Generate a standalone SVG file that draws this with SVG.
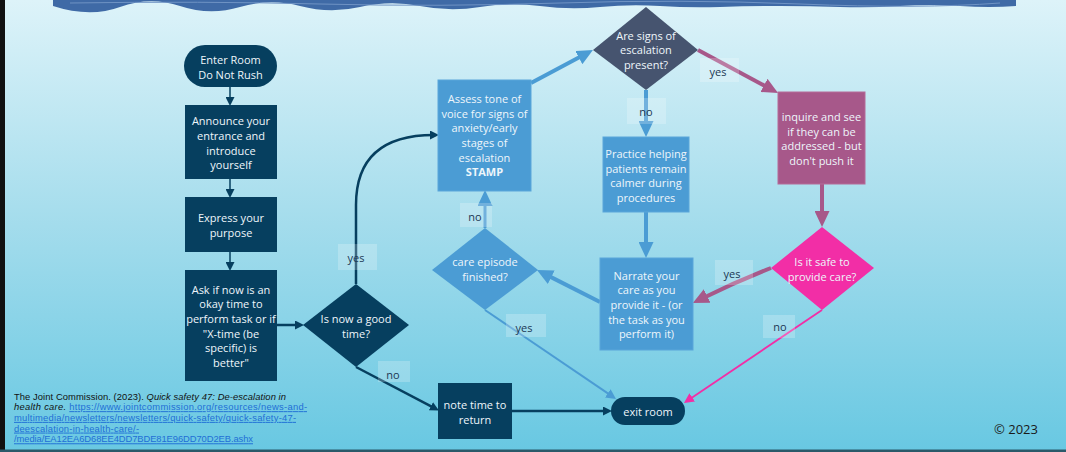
<svg xmlns="http://www.w3.org/2000/svg" width="1066" height="452" viewBox="0 0 1066 452">
<defs>
<linearGradient id="bg" x1="0" y1="0" x2="0" y2="1">
<stop offset="0" stop-color="#ddf3f9"/>
<stop offset="0.5" stop-color="#a3dcec"/>
<stop offset="1" stop-color="#68c8e2"/>
</linearGradient>
<marker id="mDark" markerUnits="userSpaceOnUse" markerWidth="9" markerHeight="9" refX="4" refY="4.5" orient="auto"><path d="M0,0 L9,4.5 L0,9 z" fill="#063f5f"/></marker>
<marker id="mBlue" markerUnits="userSpaceOnUse" markerWidth="16" markerHeight="15" refX="8" refY="7.5" orient="auto"><path d="M0,0 L16,7.5 L0,15 z" fill="#4b9cd4"/></marker>
<marker id="mBlueThin" markerUnits="userSpaceOnUse" markerWidth="10" markerHeight="10" refX="5" refY="5" orient="auto"><path d="M0,0 L10,5 L0,10 z" fill="#4b9cd4"/></marker>
<marker id="mMauve" markerUnits="userSpaceOnUse" markerWidth="16" markerHeight="15" refX="8" refY="7.5" orient="auto"><path d="M0,0 L16,7.5 L0,15 z" fill="#a7588a"/></marker>
<marker id="mPink" markerUnits="userSpaceOnUse" markerWidth="10" markerHeight="10" refX="5" refY="5" orient="auto"><path d="M0,0 L10,5 L0,10 z" fill="#f22ea6"/></marker>
</defs>
<style>
.t{font-family:"Open Sans","Noto Sans","Liberation Sans",sans-serif;font-size:11px;fill:#eef6fb;text-anchor:middle;dominant-baseline:central}
.dark{fill:#063f5f}
.blue{fill:#4b9cd4;stroke:#5aa6da;stroke-width:1}
.slate{fill:#46546f}
.mauve{fill:#a7588a;stroke:#b56a98;stroke-width:1}
.pink{fill:#f22ea6}
.lb{fill:#ffffff;fill-opacity:0.22}
.lt{font-family:"Open Sans","Noto Sans","Liberation Sans",sans-serif;font-size:11px;fill:#1c3854;text-anchor:middle;dominant-baseline:central}
.c{fill:none}
.cite{font-family:"Liberation Sans",Arial,sans-serif;font-size:9.4px;fill:#111}
.link{fill:#1f6fd6;text-decoration:underline}
</style>
<rect x="0" y="0" width="1066" height="452" fill="url(#bg)"/>
<rect x="0" y="0" width="5" height="452" fill="#111"/>
<rect x="0" y="449.5" width="1066" height="2.5" fill="#2b5a6a"/>
<path d="M53,0 H1016 V6 Q990,8 960,6 T900,6 T840,7 T780,6 T720,7 T660,6 T600,7 T540,6 T480,7 T420,6 T360,7 T300,6 T240,7 T180,6 T120,7 T53,6 Z" fill="#3f6aa6"/>
<path d="M70,3 Q200,1 320,4 T560,3 T800,4 T1000,3" fill="none" stroke="#6f93c4" stroke-width="1"/>

<g id="connectors">
<path class="c" d="M230,87 V101" stroke="#063f5f" stroke-width="1.5" marker-end="url(#mDark)"/>
<path class="c" d="M230,179 V193" stroke="#063f5f" stroke-width="1.5" marker-end="url(#mDark)"/>
<path class="c" d="M230,252 V266" stroke="#063f5f" stroke-width="1.5" marker-end="url(#mDark)"/>
<path class="c" d="M277,325 H299" stroke="#063f5f" stroke-width="2.5" marker-end="url(#mDark)"/>
<path class="c" d="M356,284 V205 Q356,135 434,135" stroke="#063f5f" stroke-width="2.5" marker-end="url(#mDark)"/>
<path class="c" d="M356,367 L434.5,408.1" stroke="#063f5f" stroke-width="2.5" marker-end="url(#mDark)"/>
<path class="c" d="M512,411 H607" stroke="#063f5f" stroke-width="2.5" marker-end="url(#mDark)"/>
<path class="c" d="M531,83 L585.9,53.8" stroke="#4b9cd4" stroke-width="4" marker-end="url(#mBlue)"/>
<path class="c" d="M646,90 V129" stroke="#4b9cd4" stroke-width="4" marker-end="url(#mBlue)"/>
<path class="c" d="M646,212 V250" stroke="#4b9cd4" stroke-width="4" marker-end="url(#mBlue)"/>
<path class="c" d="M600,302 L544.1,273.6" stroke="#4b9cd4" stroke-width="4" marker-end="url(#mBlue)"/>
<path class="c" d="M485,228 V198" stroke="#4b9cd4" stroke-width="3" marker-end="url(#mBlue)"/>
<path class="c" d="M485,310 L611.9,396.2" stroke="#4b9cd4" stroke-width="2" marker-end="url(#mBlueThin)"/>
<path class="c" d="M698,50 L771,89.2" stroke="#a7588a" stroke-width="4" marker-end="url(#mMauve)"/>
<path class="c" d="M822,184 V219" stroke="#a7588a" stroke-width="4" marker-end="url(#mMauve)"/>
<path class="c" d="M771,268 Q735,282 700,299.5" stroke="#a7588a" stroke-width="4" marker-end="url(#mMauve)"/>
<path class="c" d="M822,310 L688.1,400.2" stroke="#f22ea6" stroke-width="1.8" marker-end="url(#mPink)"/>
<rect class="lb" x="338" y="244" width="39" height="26"/><text class="lt" x="356" y="257">yes</text>
<rect class="lb" x="378" y="361" width="32" height="21"/><text class="lt" x="393" y="374">no</text>
<rect class="lb" x="627" y="98" width="39" height="26"/><text class="lt" x="646" y="111">no</text>
<rect class="lb" x="460" y="203" width="32" height="24"/><text class="lt" x="475" y="216">no</text>
<rect class="lb" x="506" y="314" width="40" height="23"/><text class="lt" x="524" y="327">yes</text>
<rect class="lb" x="700" y="58" width="39" height="24"/><text class="lt" x="718" y="71">yes</text>
<rect class="lb" x="715" y="260" width="38" height="25"/><text class="lt" x="732" y="273">yes</text>
<rect class="lb" x="763" y="315" width="32" height="23"/><text class="lt" x="780" y="326">no</text>
</g>

<g id="enter-room">
<rect class="dark" x="184" y="45" width="93" height="42" rx="21"/>
<text class="t" x="230.5" y="59">Enter Room</text>
<text class="t" x="230.5" y="74">Do Not Rush</text>
</g>
<g id="announce">
<rect class="dark" x="185" y="105" width="92" height="74"/>
<text class="t" x="231" y="120.5">Announce your</text>
<text class="t" x="231" y="135">entrance and</text>
<text class="t" x="231" y="150">introduce</text>
<text class="t" x="231" y="164.5">yourself</text>
</g>
<g id="express">
<rect class="dark" x="185" y="197" width="92" height="55"/>
<text class="t" x="231" y="217.5">Express your</text>
<text class="t" x="231" y="232.5">purpose</text>
</g>
<g id="ask">
<rect class="dark" x="185" y="270" width="92" height="111"/>
<text class="t" x="231" y="289">Ask if now is an</text>
<text class="t" x="231" y="303.7">okay time to</text>
<text class="t" x="231" y="318.4">perform task or if</text>
<text class="t" x="231" y="333">"X-time (be</text>
<text class="t" x="231" y="347.7">specific) is</text>
<text class="t" x="231" y="362.4">better"</text>
</g>
<g id="is-now-good">
<path class="dark" d="M303,325 L356,284 L409,325 L356,367 Z"/>
<text class="t" x="356" y="318.5">Is now a good</text>
<text class="t" x="356" y="333">time?</text>
</g>
<g id="assess">
<rect class="blue" x="438" y="80" width="93" height="111"/>
<text class="t" x="484.5" y="98.7">Assess tone of</text>
<text class="t" x="484.5" y="113.3">voice for signs of</text>
<text class="t" x="484.5" y="127.9">anxiety/early</text>
<text class="t" x="484.5" y="142.5">stages of</text>
<text class="t" x="484.5" y="157.1">escalation</text>
<text class="t" x="484.5" y="171.8" font-weight="bold">STAMP</text>
</g>
<g id="signs-escalation">
<path class="slate" d="M593,50 L646,7 L698,50 L646,90 Z"/>
<text class="t" x="646" y="35">Are signs of</text>
<text class="t" x="646" y="49.5">escalation</text>
<text class="t" x="646" y="64">present?</text>
</g>
<g id="practice">
<rect class="blue" x="603" y="137" width="86" height="75"/>
<text class="t" x="646" y="153.7">Practice helping</text>
<text class="t" x="646" y="168">patients remain</text>
<text class="t" x="646" y="182.6">calmer during</text>
<text class="t" x="646" y="197.2">procedures</text>
</g>
<g id="narrate">
<rect class="blue" x="600" y="258" width="93" height="92"/>
<text class="t" x="646.5" y="275">Narrate your</text>
<text class="t" x="646.5" y="289.7">care as you</text>
<text class="t" x="646.5" y="304.4">provide it - (or</text>
<text class="t" x="646.5" y="319">the task as you</text>
<text class="t" x="646.5" y="333.7">perform it)</text>
</g>
<g id="care-episode">
<path fill="#4b9cd4" d="M432,270 L485,228 L538,270 L485,310 Z"/>
<text class="t" x="485" y="261.7">care episode</text>
<text class="t" x="485" y="276">finished?</text>
</g>
<g id="inquire">
<rect class="mauve" x="778" y="92" width="87" height="92"/>
<text class="t" x="821.5" y="116.7">inquire and see</text>
<text class="t" x="821.5" y="131">if they can be</text>
<text class="t" x="821.5" y="145.6">addressed - but</text>
<text class="t" x="821.5" y="160">don't push it</text>
</g>
<g id="is-safe">
<path class="pink" d="M771,268 L822,227 L874,268 L822,310 Z"/>
<text class="t" x="822" y="261.7">Is it safe to</text>
<text class="t" x="822" y="276">provide care?</text>
</g>
<g id="note-time">
<rect class="dark" x="438" y="383" width="74" height="56"/>
<text class="t" x="475" y="404">note time to</text>
<text class="t" x="475" y="419">return</text>
</g>
<g id="exit-room">
<rect class="dark" x="611" y="397" width="74" height="28" rx="14"/>
<text class="t" x="648" y="411" font-size="13">exit room</text>
</g>

<g id="citation">
<text class="cite" x="14" y="399.5" textLength="272" lengthAdjust="spacing">The Joint Commission. (2023). <tspan font-style="italic">Quick safety 47: De-escalation in</tspan></text>
<text class="cite" x="14" y="410.2" textLength="293" lengthAdjust="spacing"><tspan font-style="italic">health care.</tspan> <tspan class="link">https://www.jointcommission.org/resources/news-and-</tspan></text>
<text class="cite link" x="14" y="420.9" textLength="282" lengthAdjust="spacing">multimedia/newsletters/newsletters/quick-safety/quick-safety-47-</text>
<text class="cite link" x="14" y="431.6" textLength="125" lengthAdjust="spacing">deescalation-in-health-care/-</text>
<text class="cite link" x="14" y="442.3" textLength="239" lengthAdjust="spacing">/media/EA12EA6D68EE4DD7BDE81E96DD70D2EB.ashx</text>
</g>
<text x="1016" y="434" text-anchor="middle" font-family="'Open Sans','Noto Sans',sans-serif" font-size="13" fill="#1a1a1a">© 2023</text>
</svg>
